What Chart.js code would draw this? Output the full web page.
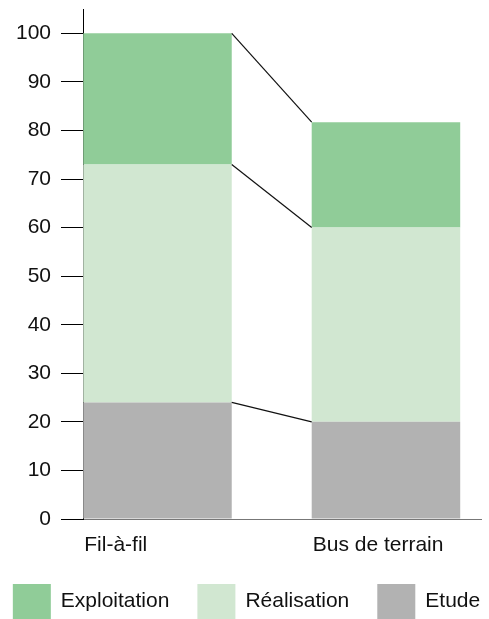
<!DOCTYPE html>
<html>
<head>
<meta charset="utf-8">
<script src="https://cdn.jsdelivr.net/npm/chart.js@4"></script>
<style>
  html, body { margin: 0; padding: 0; background: #fff; overflow: hidden; }
  #wrap { width: 489px; height: 619px; position: relative; }
</style>
</head>
<body>
<div id="wrap"><canvas id="chart"></canvas></div>
<script>
const categories = ['Fil-à-fil', 'Bus de terrain'];
const etude = [24, 20];
const realisation = [49, 40];
const exploitation = [27, 21.7];
const yTicks = [0, 10, 20, 30, 40, 50, 60, 70, 80, 90, 100];

const FONT = '"Liberation Sans", Arial, sans-serif';
const FONT_SIZE = 21;
Chart.defaults.font.family = FONT;
Chart.defaults.font.size = FONT_SIZE;
Chart.defaults.color = '#111';

function points(values) {
    return values.map((v, i) => ({ x: i, y: v }));
}

// thin lines joining the tops of each stack, category names and the legend
const extras = {
    id: 'extras',
    afterDatasetsDraw(chart) {
        const ctx = chart.ctx;
        const area = chart.chartArea;
        ctx.save();
        ctx.strokeStyle = '#111';
        ctx.lineWidth = 1.2;
        chart.data.datasets.forEach((ds, i) => {
            const bars = chart.getDatasetMeta(i).data;
            const a = bars[0], b = bars[1];
            ctx.beginPath();
            ctx.moveTo(a.x + a.width / 2, a.y);
            ctx.lineTo(b.x - b.width / 2, b.y);
            ctx.stroke();
        });

        ctx.fillStyle = '#111';
        ctx.font = FONT_SIZE + 'px ' + FONT;
        ctx.textAlign = 'left';
        ctx.textBaseline = 'middle';
        chart.getDatasetMeta(0).data.forEach((bar, i) => {
            ctx.fillText(categories[i], bar.x - bar.width / 2 + 1, area.bottom + 26);
        });

        // legend, top series first
        const box = 38, boxH = 35, gap = 10, spacing = 28;
        const items = chart.data.datasets.slice().reverse();
        const widths = items.map(ds => box + gap + ctx.measureText(ds.label).width);
        const total = widths.reduce((s, w) => s + w, 0) + spacing * (items.length - 1);
        let x = (chart.width - total) / 2 + 2;
        const top = area.bottom + 65;
        items.forEach((ds, i) => {
            ctx.fillStyle = ds.backgroundColor;
            ctx.fillRect(x, top, box, boxH);
            ctx.fillStyle = '#111';
            ctx.fillText(ds.label, x + box + gap, top + boxH / 2);
            x += widths[i] + spacing;
        });
        ctx.restore();
    }
};

const barOpts = { barPercentage: 0.65, categoryPercentage: 1, borderWidth: 0 };

new Chart(document.getElementById('chart'), {
    type: 'bar',
    data: {
        datasets: [
            { label: 'Etude', data: points(etude), backgroundColor: '#b2b2b2', ...barOpts },
            { label: 'Réalisation', data: points(realisation), backgroundColor: '#d1e7d1', ...barOpts },
            { label: 'Exploitation', data: points(exploitation), backgroundColor: '#90cc98', ...barOpts }
        ]
    },
    options: {
        responsive: true,
        maintainAspectRatio: false,
        animation: false,
        layout: { padding: { top: 9, right: 8, left: 0, bottom: 61 } },
        plugins: {
            legend: { display: false },
            tooltip: { enabled: false }
        },
        scales: {
            x: {
                type: 'linear',
                min: -0.326,
                max: 1.416,
                offset: false,
                stacked: true,
                grid: { display: false },
                border: { color: '#777' },
                ticks: { display: false },
                afterBuildTicks: s => { s.ticks = categories.map((c, i) => ({ value: i })); },
                afterFit: s => { s.height = 39; s.paddingLeft = 0; s.paddingRight = 0; }
            },
            y: {
                stacked: true,
                min: 0,
                max: 105,
                border: { color: '#000' },
                grid: { drawOnChartArea: false, tickLength: 22, color: '#000' },
                ticks: { padding: 10, color: '#111' },
                afterBuildTicks: s => { s.ticks = yTicks.map(v => ({ value: v })); },
                afterFit: s => { s.width = 83; s.paddingTop = 0; s.paddingBottom = 0; }
            }
        }
    },
    plugins: [extras]
});
</script>
</body>
</html>
